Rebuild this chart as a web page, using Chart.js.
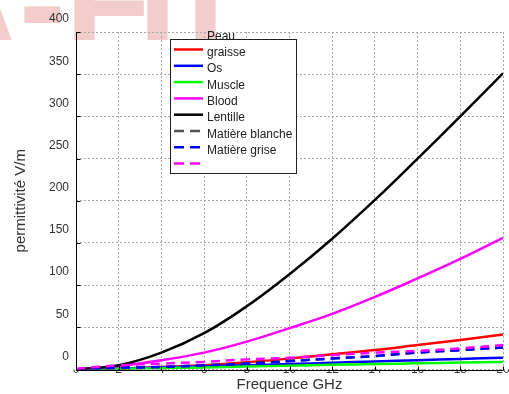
<!DOCTYPE html>
<html>
<head>
<meta charset="utf-8">
<script src="https://cdn.jsdelivr.net/npm/chart.js@4.4.0/dist/chart.umd.min.js"></script>
<style>
    html, body { margin: 0; padding: 0; background: #ffffff; }
</style>
</head>
<body>
<canvas id="chart" width="509" height="394"></canvas>
<script>
// frequency axis (GHz)
const freqs = [0, 2, 4, 6, 8, 10, 12, 14, 16, 18, 20];
const yTicks = [0, 50, 100, 150, 200, 250, 300, 350, 400];

const tissueLabels = ['Peau', 'graisse', 'Os', 'Muscle', 'Blood', 'Lentille', 'Matière blanche', 'Matière grise'];

// permittivity values per curve, one value per frequency
const peau = [0, 1, 3, 5, 8.5, 13, 18, 23, 29, 35, 41.5];
const graisse = [0, 1, 2.5, 4, 5, 6.5, 8, 9.5, 11, 12.5, 14];
const os = [0, 0.8, 1.5, 2.5, 3.5, 4.5, 5.5, 6.5, 7.3, 8.2, 9];
const muscle = [0, 4, 11, 20, 33, 49, 66, 86, 108, 131, 156];
const blood = [0, 5, 20, 43, 75, 113, 155, 201, 250, 300, 351];
const lentille = [0, 2, 3, 5, 7, 10, 13, 16, 20, 23, 26];
const matiereBlanche = [0, 2, 3, 5, 7, 10, 13, 16, 20, 23, 26];
const matiereGrise = [1, 5, 7, 9, 12, 14, 17, 20, 22, 25, 29];

const seriesValues = [peau, graisse, os, muscle, blood, lentille, matiereBlanche, matiereGrise];
const lineColors = ['#ff0000', '#0000ff', '#00ff00', '#ff00ff', '#000000', '#555555', '#0000ff', '#ff00ff'];
const lineDashes = [[], [], [], [], [], [9, 6], [9, 6], [9, 6]];

const FONT = "'Liberation Sans', Arial, sans-serif";

const datasets = seriesValues.map((vals, i) => ({
    label: tissueLabels[i],
    data: freqs.map((f, j) => ({ x: f, y: vals[j] })),
    borderColor: lineColors[i],
    borderWidth: 2.5,
    borderDash: lineDashes[i],
    pointRadius: 0,
    fill: false,
    tension: 0.4,
    // last curve on top
    order: seriesValues.length - i
}));

// faint pink lettering cut off at the top-left corner
const watermark = {
    id: 'watermark',
    beforeDraw(chart) {
        const ctx = chart.ctx;
        ctx.save();
        ctx.beginPath();
        ctx.rect(0, 0, chart.width, 40);
        ctx.clip();
        ctx.fillStyle = '#f3cccc';
        ctx.textBaseline = 'alphabetic';
        ctx.font = 'bold 140px ' + FONT;
        ctx.fillText('A-', -82, 51);
        ctx.fillText('F', 65, 51);
        ctx.fillText('I', 138, 51);
        ctx.fillText('I', 186, 51);
        ctx.restore();
    }
};

// solid axis lines with small inward tick marks
const axesFrame = {
    id: 'axesFrame',
    afterDatasetsDraw(chart) {
        const { ctx, chartArea, scales } = chart;
        const left = Math.round(chartArea.left) + 0.5;
        const bottom = Math.round(chartArea.bottom) + 0.5;
        ctx.save();
        ctx.strokeStyle = '#000';
        ctx.lineWidth = 1;
        ctx.beginPath();
        ctx.moveTo(left, chartArea.top);
        ctx.lineTo(left, bottom);
        ctx.lineTo(chartArea.right, bottom);
        scales.y.ticks.forEach(t => {
            const y = Math.round(scales.y.getPixelForValue(t.value)) + 0.5;
            ctx.moveTo(left, y);
            ctx.lineTo(left + 4, y);
        });
        scales.x.ticks.forEach(t => {
            const x = Math.round(scales.x.getPixelForValue(t.value)) + 0.5;
            ctx.moveTo(x, bottom);
            ctx.lineTo(x, bottom - 4);
        });
        ctx.stroke();
        ctx.restore();
    }
};

// boxed legend; text rows sit half a row above their line samples
const boxLegend = {
    id: 'boxLegend',
    afterDraw(chart) {
        const ctx = chart.ctx;
        const box = { x: 170.5, y: 39.5, w: 126, h: 134 };
        ctx.save();
        ctx.fillStyle = '#ffffff';
        ctx.fillRect(box.x, box.y, box.w, box.h);
        ctx.strokeStyle = '#222';
        ctx.lineWidth = 1;
        ctx.strokeRect(box.x, box.y, box.w, box.h);

        const rowH = 16.3;
        chart.data.datasets.forEach((ds, i) => {
            const ly = 49.5 + rowH * i;
            ctx.beginPath();
            ctx.strokeStyle = ds.borderColor;
            ctx.lineWidth = 2.5;
            ctx.setLineDash(ds.borderDash.length ? [10, 6] : []);
            ctx.moveTo(174, ly);
            ctx.lineTo(203, ly);
            ctx.stroke();
        });
        ctx.setLineDash([]);
        ctx.fillStyle = '#222';
        ctx.font = '12px ' + FONT;
        ctx.textBaseline = 'middle';
        ctx.textAlign = 'left';
        chart.data.datasets.forEach((ds, i) => {
            ctx.fillText(ds.label, 207, 36.5 + rowH * i);
        });
        ctx.restore();
    }
};

const gridColor = '#a8a8a8';
const textColor = '#333333';

new Chart(document.getElementById('chart').getContext('2d'), {
    type: 'line',
    data: { datasets },
    plugins: [watermark, axesFrame, boxLegend],
    options: {
        responsive: false,
        devicePixelRatio: 1,
        animation: false,
        layout: { padding: { top: 32, right: 6, left: 0, bottom: 0 } },
        plugins: {
            legend: { display: false },
            tooltip: { enabled: false }
        },
        scales: {
            x: {
                type: 'linear',
                min: 0,
                max: 20,
                ticks: {
                    stepSize: 2,
                    padding: -7,
                    color: textColor,
                    font: { family: FONT, size: 12 },
                    maxRotation: 0
                },
                grid: { color: gridColor, lineWidth: 1, drawTicks: false },
                border: { display: false, dash: [2, 2] },
                title: {
                    display: true,
                    text: 'Frequence GHz',
                    color: textColor,
                    font: { family: FONT, size: 15 },
                    padding: { top: 1, bottom: 0 }
                },
                afterFit: s => { s.height = 24.5; }
            },
            y: {
                min: 0,
                max: 400,
                afterBuildTicks: s => { s.ticks = yTicks.map(v => ({ value: v })); },
                ticks: {
                    padding: 7,
                    labelOffset: -13,
                    color: textColor,
                    font: { family: FONT, size: 12 }
                },
                grid: { color: gridColor, lineWidth: 1, drawTicks: false },
                border: { display: false, dash: [2, 2] },
                title: {
                    display: true,
                    text: 'permittivité V/m',
                    color: textColor,
                    font: { family: FONT, size: 15 },
                    padding: { top: 12, bottom: 0 }
                },
                afterFit: s => { s.width = 76; }
            }
        }
    }
});
</script>
</body>
</html>
